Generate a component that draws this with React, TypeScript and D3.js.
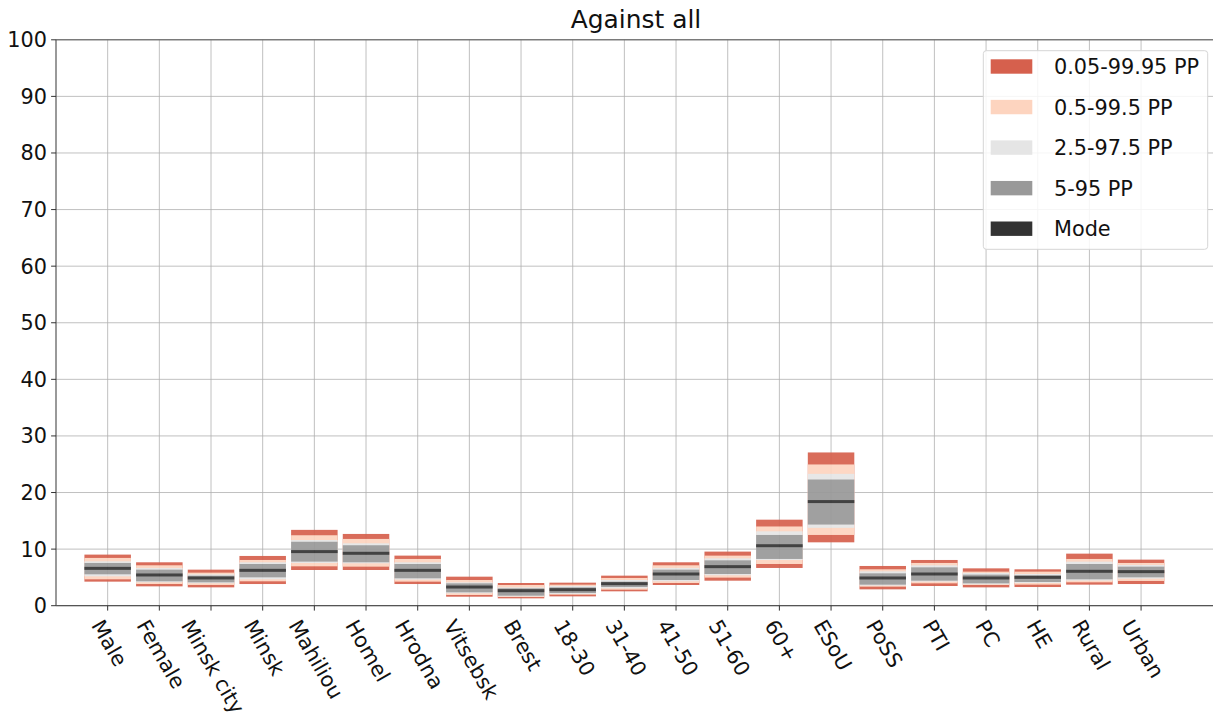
import React from "react";
import * as d3 from "d3";

const categories = ["Male","Female","Minsk city","Minsk","Mahiliou","Homel","Hrodna","Vitsebsk","Brest","18-30","31-40","41-50","51-60","60+","ESoU","PoSS","PTI","PC","HE","Rural","Urban"];
const p0005 = [4.25,3.42,3.24,3.83,6.31,6.31,3.83,1.59,1.3,1.65,2.54,3.66,4.42,6.67,11.2,2.89,3.48,3.24,3.3,3.72,3.83];
const p005  = [4.66,3.83,3.66,4.31,6.96,6.9,4.25,1.89,1.53,1.95,2.83,4.01,4.96,7.37,12.5,3.36,3.95,3.66,3.72,4.13,4.37];
const p025  = [5.19,4.13,3.95,4.66,7.55,7.49,4.6,2.18,1.65,2.06,3.07,4.31,5.37,8.08,13.75,3.54,4.25,3.78,4.01,4.42,4.78];
const p05   = [5.55,4.31,4.13,5.01,7.79,7.67,4.84,2.36,1.77,2.24,3.3,4.54,5.6,8.26,14.34,3.72,4.42,3.95,4.19,4.66,5.01];
const mode  = [6.6,5.43,4.9,6.25,9.56,9.26,6.25,3.3,2.65,2.83,3.89,5.6,6.9,10.6,18.4,4.9,5.6,4.9,5.01,6.08,6.02];
const p95   = [7.55,6.37,5.31,7.37,11.3,10.68,7.37,3.95,3.07,3.24,4.25,6.37,8.02,12.5,22.3,5.72,6.78,5.49,5.37,7.37,6.9];
const p975  = [7.85,6.67,5.55,7.67,11.6,11.03,7.67,4.13,3.24,3.48,4.54,6.67,8.38,13.15,23.3,6.08,7.14,5.78,5.6,7.79,7.2];
const p995  = [8.44,7.14,5.84,8.08,12.45,11.8,8.26,4.54,3.66,3.72,4.9,7.14,8.85,14.0,24.96,6.43,7.55,6.02,6.02,8.26,7.55];
const p9995 = [9.03,7.67,6.37,8.79,13.4,12.68,8.85,5.13,4.01,4.07,5.31,7.67,9.56,15.2,27.08,7.02,8.08,6.6,6.43,9.2,8.14];
const yTicks = [0,10,20,30,40,50,60,70,80,90,100];
const legendLabels = ["0.05-99.95 PP","0.5-99.5 PP","2.5-97.5 PP","5-95 PP","Mode"];

const W = 1213, H = 715;
const left = 56, right = 1216, top = 39.8, bottom = 605.7;
const FONT = "DejaVu Sans, sans-serif";
const FS = 20.8;
const colors = ["#d6604d", "#fdd4bf", "#e5e5e5", "#999999", "#333333"];

function measure(t: string): number {
  if (typeof document === "undefined") return t.length * 12;
  const c = document.createElement("canvas").getContext("2d");
  if (!c) return t.length * 12;
  c.font = `${FS}px DejaVu Sans`;
  return c.measureText(t).width;
}

export default function App() {
  const x = d3.scaleLinear().domain([-1, 21.45]).range([left, right]);
  const y = d3.scaleLinear().domain([0, 100]).range([bottom, top]);
  const bw = (x(1) - x(0)) * 0.9;
  const bands: [number[], number[]][] = [[p0005, p9995], [p005, p995], [p025, p975], [p05, p95]];
  const xTickVals = categories.map((_, i) => i);
  const th = FS * 1.164;
  const s60 = Math.sin(Math.PI / 3), c60 = Math.cos(Math.PI / 3);

  return (
    <div style={{ position: "absolute", left: 0, top: 0 }}>
      <svg width={W} height={H} style={{ display: "block", background: "#fff" }} fontFamily={FONT}>
        {/* grid */}
        <g stroke="#b0b0b0" strokeWidth={0.8}>
          {yTicks.map(t => <line key={"gy" + t} x1={left} x2={W} y1={y(t)} y2={y(t)} />)}
          {xTickVals.map(i => <line key={"gx" + i} x1={x(i)} x2={x(i)} y1={top} y2={bottom} />)}
        </g>
        {/* bars */}
        <g opacity={0.92}>
          {categories.map((c, i) => (
            <g key={c}>
              {bands.map(([lo, hi], k) => (
                <rect key={k} x={x(i) - bw / 2} width={bw} y={y(hi[i])} height={y(lo[i]) - y(hi[i])} fill={colors[k]} />
              ))}
              <rect x={x(i) - bw / 2} width={bw} y={y(mode[i]) - 1.5} height={3} fill={colors[4]} />
            </g>
          ))}
        </g>
        {/* spines */}
        <line x1={left} x2={W} y1={top} y2={top} stroke="#555" strokeWidth={1} />
        <line x1={left} x2={W} y1={bottom} y2={bottom} stroke="#555" strokeWidth={1.2} />
        <line x1={left} x2={left} y1={top} y2={bottom} stroke="#555" strokeWidth={1.2} />
        {/* y ticks */}
        {yTicks.map(t => (
          <g key={"yt" + t}>
            <line x1={left - 4.9} x2={left} y1={y(t)} y2={y(t)} stroke="#333" strokeWidth={1} />
            <text x={left - 9} y={y(t)} dy="0.36em" textAnchor="end" fontSize={FS} fill="#111">{t}</text>
          </g>
        ))}
        {/* x ticks */}
        {xTickVals.map(i => {
          const L = measure(categories[i]);
          const cy = bottom + 9.8 + (L / 2) * s60 + (th / 2) * c60;
          return (
            <g key={"xt" + i}>
              <line x1={x(i)} x2={x(i)} y1={bottom} y2={bottom + 4.9} stroke="#333" strokeWidth={1} />
              <text transform={`translate(${x(i) + 2},${cy}) rotate(60)`} textAnchor="middle" dy="0.36em" fontSize={FS} fill="#111">{categories[i]}</text>
            </g>
          );
        })}
        {/* title */}
        <text x={636} y={28} textAnchor="middle" fontSize={24.9} fill="#111">Against all</text>
        {/* legend */}
        <g>
          <rect x={983.3} y={50.7} width={224.4} height={198.6} rx={3} fill="#fff" fillOpacity={0.85} stroke="#d5d5d5" strokeWidth={1} />
          {legendLabels.map((l, k) => {
            const cy = 66.5 + k * 40.55;
            return (
              <g key={l}>
                <rect x={990.7} y={cy - 7.2} width={41.6} height={14.4} fill={colors[k]} />
                <text x={1054} y={cy} dy="0.36em" fontSize={FS} fill="#111">{l}</text>
              </g>
            );
          })}
        </g>
      </svg>
    </div>
  );
}
